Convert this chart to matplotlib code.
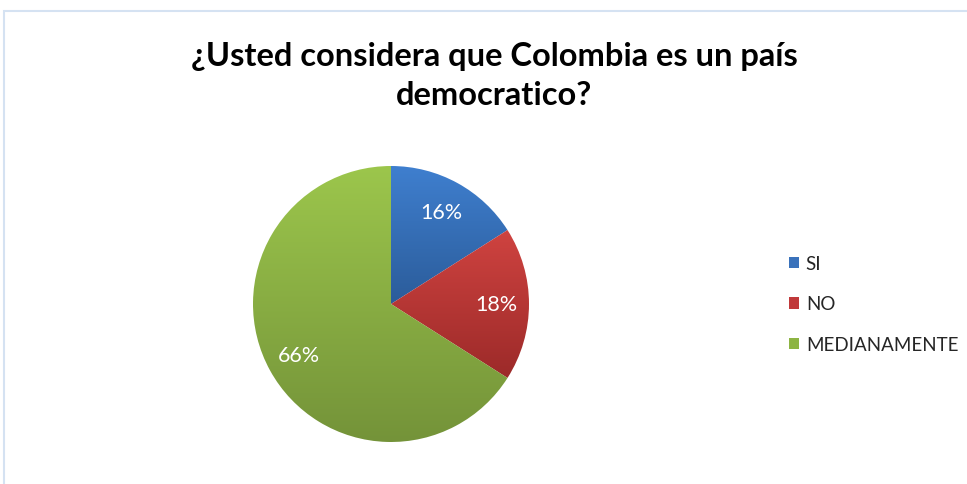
import matplotlib
matplotlib.use("Agg")
import matplotlib.pyplot as plt
import numpy as np
from matplotlib.colors import LinearSegmentedColormap
from matplotlib.patches import Rectangle, Patch

# datos
labels = ["SI", "NO", "MEDIANAMENTE"]
values = [16, 18, 66]
title = "¿Usted considera que Colombia es un país\ndemocratico?"

# colores (arriba claro, abajo oscuro)
top_colors = ["#3f7fcf", "#cf4340", "#9cc64c"]
bottom_colors = ["#2b5c9a", "#9c2a29", "#749339"]
legend_colors = ["#3a72bb", "#c0393a", "#8db443"]

plt.rcParams["font.family"] = ["Lato", "DejaVu Sans"]

W, H = 967, 485
fig = plt.figure(figsize=(W / 100, H / 100), dpi=100)

# marco del grafico
fig.patches.append(Rectangle((4 / W, -0.1), 1.2, 1 - 12 / H + 0.1,
                             transform=fig.transFigure, fill=False,
                             edgecolor="#d5e2f2", linewidth=1.5))

cx, cy, r = 391, 305, 138
ax = fig.add_axes([(cx - r) / W, (H - cy - r) / H, 2 * r / W, 2 * r / H])

wedges, texts, autotexts = ax.pie(values, startangle=90, counterclock=False,
                                  autopct="%1.0f%%", pctdistance=0.76,
                                  textprops=dict(color="white", fontsize=15.5))
ax.set_aspect("equal")
ax.axis("off")

# degradado vertical en cada porcion
grad = np.linspace(1, 0, 256).reshape(-1, 1)
for w, ct, cb in zip(wedges, top_colors, bottom_colors):
    w.set_facecolor("none")
    w.set_edgecolor("none")
    bb = w.get_path().get_extents()
    cmap = LinearSegmentedColormap.from_list("g", [cb, ct])
    im = ax.imshow(grad, cmap=cmap, aspect="auto",
                   extent=[bb.x0, bb.x1, bb.y0, bb.y1], zorder=1)
    im.set_clip_path(w)
for t in autotexts:
    t.set_zorder(5)
ax.set_xlim(-1, 1)
ax.set_ylim(-1, 1)

fig.text(494 / W, 1 - 76 / H, title, ha="center", va="center",
         fontsize=23.5, fontweight="bold", color="black", linespacing=1.45)

handles = [Patch(facecolor=c, edgecolor="none") for c in legend_colors]
fig.legend(handles, labels, loc="center left",
           bbox_to_anchor=(772 / W, 1 - 305 / H), frameon=False,
           fontsize=13.5, handlelength=0.55, handleheight=0.55,
           handletextpad=0.35, labelspacing=1.25, labelcolor="#262626")

fig.savefig("out.png", dpi=100, facecolor="white")
